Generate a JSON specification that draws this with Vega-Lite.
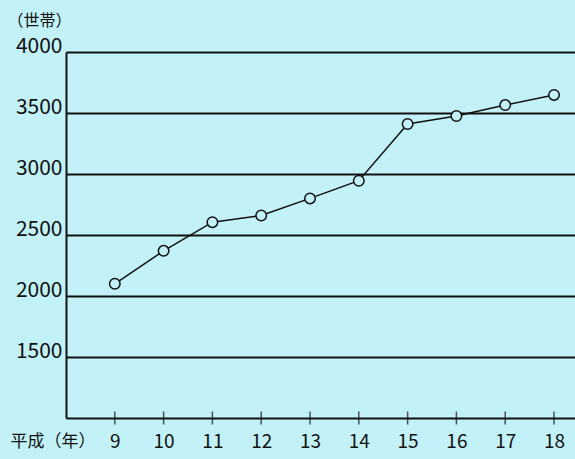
{
  "$schema": "https://vega.github.io/schema/vega-lite/v6.json",
  "width": 509,
  "height": 366,
  "autosize": "none",
  "padding": {"left": 66, "top": 52, "right": 0, "bottom": 41},
  "background": "#c2f1f8",
  "config": {
    "font": "Noto Sans CJK JP",
    "view": {"stroke": null}
  },
  "data": {
    "values": [
      {"year": 9, "households": 2100},
      {"year": 10, "households": 2370},
      {"year": 11, "households": 2605},
      {"year": 12, "households": 2660},
      {"year": 13, "households": 2800},
      {"year": 14, "households": 2945},
      {"year": 15, "households": 3410},
      {"year": 16, "households": 3475},
      {"year": 17, "households": 3565},
      {"year": 18, "households": 3648}
    ]
  },
  "encoding": {
    "x": {
      "field": "year",
      "type": "quantitative",
      "scale": {"domain": [8, 18.43], "nice": false, "zero": false},
      "axis": {
        "values": [9, 10, 11, 12, 13, 14, 15, 16, 17, 18],
        "format": "d",
        "grid": false,
        "ticks": false,
        "domainColor": "#111111",
        "domainWidth": 2,
        "labelFont": "Noto Sans CJK JP",
        "labelFontSize": 19,
        "labelColor": "#111111",
        "labelPadding": 23,
        "labelBaseline": "middle",
        "title": "平成（年）",
        "titleFont": "Noto Sans CJK JP",
        "titleFontSize": 17,
        "titleFontWeight": "normal",
        "titleColor": "#111111",
        "titleAlign": "left",
        "titleBaseline": "middle",
        "titleX": -56,
        "titleY": 23
      }
    },
    "y": {
      "field": "households",
      "type": "quantitative",
      "scale": {"domain": [1000, 4000], "nice": false, "zero": false},
      "axis": {
        "values": [1500, 2000, 2500, 3000, 3500, 4000],
        "format": "d",
        "grid": true,
        "gridColor": "#111111",
        "gridWidth": 2,
        "gridOpacity": 1,
        "ticks": false,
        "domainColor": "#111111",
        "domainWidth": 2,
        "labelFont": "Noto Sans CJK JP",
        "labelFontSize": 21,
        "labelColor": "#111111",
        "labelPadding": 4,
        "labelBaseline": "alphabetic",
        "title": "（世帯）",
        "titleFont": "Noto Sans CJK JP",
        "titleFontSize": 16,
        "titleFontWeight": "normal",
        "titleColor": "#111111",
        "titleAngle": 0,
        "titleAlign": "left",
        "titleBaseline": "middle",
        "titleX": -59,
        "titleY": -32
      }
    }
  },
  "layer": [
    {
      "mark": {"type": "tick", "orient": "vertical", "color": "#111111", "size": 13, "thickness": 1.5},
      "encoding": {
        "y": {"datum": 1000, "type": "quantitative"}
      }
    },
    {
      "mark": {"type": "line", "color": "#111111", "strokeWidth": 1.5}
    },
    {
      "mark": {"type": "point", "shape": "circle", "size": 110, "filled": false, "fill": "#c2f1f8", "fillOpacity": 1, "stroke": "#111111", "strokeWidth": 1.5, "opacity": 1}
    }
  ]
}
